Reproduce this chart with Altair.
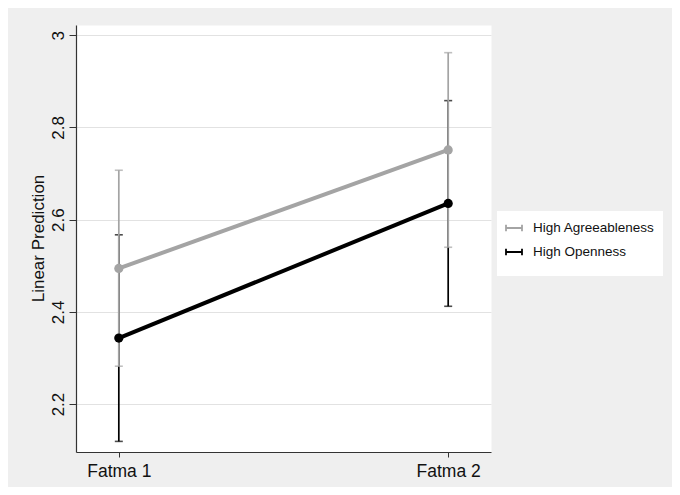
import altair as alt
import pandas as pd

# ---- data ----
conditions = ["Fatma 1", "Fatma 2"]
groups = ["High Agreeableness", "High Openness"]
agree_mean = [2.494, 2.751]
agree_low = [2.282, 2.540]
agree_high = [2.707, 2.962]
open_mean = [2.343, 2.635]
open_low = [2.119, 2.412]
open_high = [2.567, 2.858]
y_ticks = [2.2, 2.4, 2.6, 2.8, 3.0]

GRAY = "#a4a4a4"
BLACK = "#000000"
FONT = "Liberation Sans"

rows = []
for g, m, lo, hi in [(groups[0], agree_mean, agree_low, agree_high),
                     (groups[1], open_mean, open_low, open_high)]:
    for c, mm, l, h in zip(conditions, m, lo, hi):
        rows.append(dict(group=g, cond=c, mean=mm, lo=l, hi=h))
df = pd.DataFrame(rows)

x_axis = alt.Axis(title=None, grid=False, labelAngle=0, labelFontSize=17.5,
                  tickSize=5, labelPadding=5, labelBaseline="top")
y_axis = alt.Axis(title="Linear Prediction", values=y_ticks, format="~g",
                  labelAngle=270, labelAlign="center", labelBaseline="alphabetic",
                  labelFontSize=17, tickSize=7, labelPadding=6, grid=True,
                  titleFontSize=17, titleAngle=270, titleAlign="center",
                  titleBaseline="alphabetic", titleX=-33, titleY=213,
                  titleFontWeight="normal")

x_scale = alt.Scale(type="point", domain=conditions, padding=0.13)
y_scale = alt.Scale(domain=[2.096, 3.022], nice=False, zero=False)
color_scale = alt.Scale(domain=groups, range=[GRAY, BLACK])

X = alt.X("cond:N", scale=x_scale, axis=x_axis, sort=conditions)

legend = alt.Legend(
    title=" ", titleOrient="bottom", titleFontSize=9, titlePadding=0,
    orient="none", legendX=421, legendY=186,
    fillColor="white", padding=8,
    symbolType="M-1,0H1M-1,-0.4V0.4M1,-0.4V0.4",
    symbolSize=256, symbolStrokeWidth=1.8,
    labelFontSize=13.5, labelFont=FONT, labelColor="#111",
    rowPadding=8, labelOffset=10,
)

base = alt.Chart(df)


def ci_layers(g, with_legend):
    sub = base.transform_filter(alt.datum.group == g)
    col = alt.Color("group:N", scale=color_scale,
                    legend=legend if with_legend else None)
    col_nl = alt.Color("group:N", scale=color_scale, legend=None)
    rule = sub.mark_rule(strokeWidth=1.7).encode(
        x=X, y=alt.Y("lo:Q", scale=y_scale, axis=y_axis), y2="hi:Q", color=col)
    cap_lo = sub.mark_tick(orient="horizontal", size=8, thickness=1.6).encode(
        x=X, y=alt.Y("lo:Q", scale=y_scale, axis=y_axis), color=col_nl)
    cap_hi = sub.mark_tick(orient="horizontal", size=8, thickness=1.6).encode(
        x=X, y=alt.Y("hi:Q", scale=y_scale, axis=y_axis), color=col_nl)
    return [rule, cap_lo, cap_hi]


def mean_layers(g):
    sub = base.transform_filter(alt.datum.group == g)
    col = alt.Color("group:N", scale=color_scale, legend=None)
    line = sub.mark_line(strokeWidth=4).encode(
        x=X, y=alt.Y("mean:Q", scale=y_scale, axis=y_axis), color=col)
    pts = sub.mark_circle(size=85, opacity=1).encode(
        x=X, y=alt.Y("mean:Q", scale=y_scale, axis=y_axis), color=col)
    return [line, pts]


layers = (ci_layers(groups[1], True) + ci_layers(groups[0], True)
          + mean_layers(groups[0]) + mean_layers(groups[1]))

chart = alt.layer(*layers).properties(
    width=415, height=427,
    autosize=alt.AutoSizeParams(type="none"),
    padding={"left": 68, "top": 17, "right": 181, "bottom": 35},
    background="#efefef",
).configure_view(
    fill="white", stroke="transparent"
).configure_axis(
    labelFont=FONT, titleFont=FONT, labelColor="#111", titleColor="#111",
    domainColor="#333", domainWidth=1.2, tickColor="#333", tickWidth=1,
    gridColor="#e2e2e2", gridWidth=1,
)

chart.save("out.html", embed_options={"renderer": "svg", "actions": False})
